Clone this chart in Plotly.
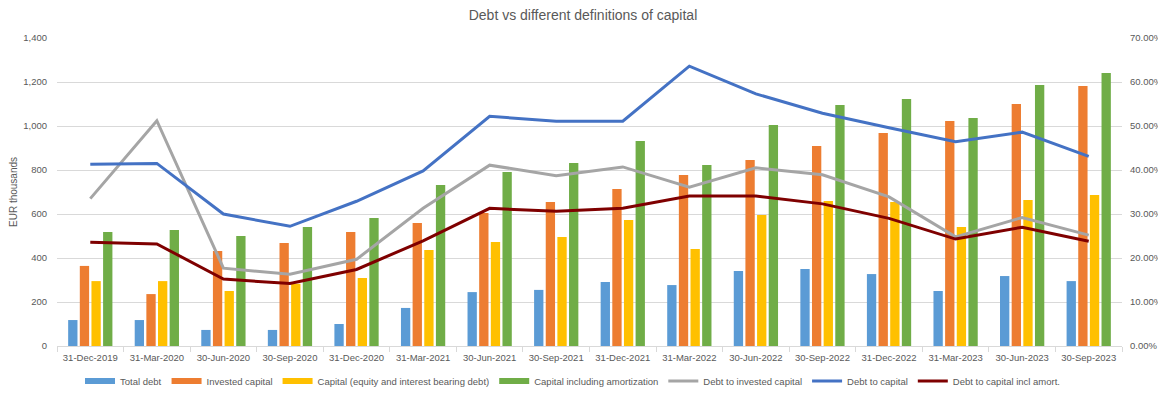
import plotly.graph_objects as go

categories = ["31-Dec-2019", "31-Mar-2020", "30-Jun-2020", "30-Sep-2020", "31-Dec-2020", "31-Mar-2021",
              "30-Jun-2021", "30-Sep-2021", "31-Dec-2021", "31-Mar-2022", "30-Jun-2022", "30-Sep-2022",
              "31-Dec-2022", "31-Mar-2023", "30-Jun-2023", "30-Sep-2023"]

total_debt = [118, 118, 73, 73, 100, 173, 245, 255, 291, 277, 341, 350, 327, 250, 318, 295]
invested_capital = [364, 236, 432, 468, 518, 559, 605, 655, 714, 777, 845, 909, 968, 1023, 1100, 1182]
capital_eq_debt = [295, 295, 250, 283, 309, 436, 473, 495, 573, 441, 595, 659, 655, 541, 664, 686]
capital_incl_amort = [518, 527, 500, 541, 582, 732, 791, 832, 932, 823, 1005, 1095, 1123, 1036, 1186, 1241]

debt_to_invested = [0.335, 0.512, 0.177, 0.163, 0.197, 0.313, 0.411, 0.387, 0.407, 0.361, 0.405, 0.389,
                    0.339, 0.248, 0.292, 0.252]
debt_to_capital = [0.413, 0.415, 0.300, 0.272, 0.329, 0.398, 0.522, 0.511, 0.511, 0.636, 0.573, 0.529,
                   0.496, 0.464, 0.486, 0.431]
debt_to_capital_amort = [0.236, 0.232, 0.152, 0.142, 0.174, 0.239, 0.313, 0.306, 0.313, 0.341, 0.341, 0.323,
                         0.290, 0.243, 0.270, 0.238]

FONT = "Liberation Sans Narrow, Liberation Sans, Arial, sans-serif"
TXT = "#595959"

# the page body has an 8px margin, so the figure is 8px smaller than the window
W, H = 1158, 386

fig = go.Figure()
bar_specs = [
    ("Total debt", total_debt, "#5B9BD5"),
    ("Invested capital", invested_capital, "#ED7D31"),
    ("Capital (equity and interest bearing debt)", capital_eq_debt, "#FFC000"),
    ("Capital including amortization", capital_incl_amort, "#70AD47"),
]
for name, vals, col in bar_specs:
    fig.add_trace(go.Bar(x=categories, y=vals, name=name, marker_color=col, marker_line_width=0,
                         legendgroup=name, showlegend=False))

line_specs = [
    ("Debt to invested capital", debt_to_invested, "#A5A5A5"),
    ("Debt to capital", debt_to_capital, "#4472C4"),
    ("Debt to capital incl amort.", debt_to_capital_amort, "#7F0000"),
]
for name, vals, col in line_specs:
    fig.add_trace(go.Scatter(x=categories, y=vals, name=name, mode="lines", yaxis="y2",
                             line=dict(color=col, width=3), showlegend=False, legendgroup=name))

# legend entries (wide bar-like swatches as in the original)
for name, vals, col in bar_specs:
    fig.add_trace(go.Scatter(x=[None], y=[None], name=name, mode="lines", legendgroup=name,
                             line=dict(color=col, width=6)))
for name, vals, col in line_specs:
    fig.add_trace(go.Scatter(x=[None], y=[None], name=name, mode="lines", legendgroup=name, yaxis="y2",
                             line=dict(color=col, width=3)))

fig.update_layout(
    width=W, height=H,
    margin=dict(l=49, r=44, t=30, b=48, autoexpand=False),
    paper_bgcolor="white", plot_bgcolor="white",
    font=dict(family=FONT, size=10, color=TXT),
    title=dict(text="Debt vs different definitions of capital", x=575 / W, xanchor="center",
               xref="container", yref="container", y=1 - 7 / H, yanchor="middle",
               font=dict(size=14, color=TXT, family=FONT)),
    barmode="group", bargap=0.3, bargroupgap=0.2,
    xaxis=dict(type="category", showgrid=False, showline=True, linecolor="#D9D9D9", linewidth=1,
               ticks="outside", tickson="boundaries", ticklen=5, tickcolor="#D9D9D9",
               ticklabelstandoff=3,
               tickfont=dict(size=9.5, color=TXT), tickangle=0, automargin=False),
    yaxis=dict(range=[0, 1400], dtick=200, tickformat=",", showgrid=True, gridcolor="#D9D9D9",
               gridwidth=1, zeroline=False, showline=False, ticks="", ticklabelstandoff=9,
               automargin=False,
               title=dict(text="EUR thousands", font=dict(size=10, color=TXT), standoff=3),
               tickfont=dict(size=9.5, color=TXT)),
    yaxis2=dict(range=[0, 0.7], dtick=0.1, tickformat=".2%", overlaying="y", side="right",
                showgrid=False, zeroline=False, showline=False, ticklabelstandoff=7, automargin=False,
                tickfont=dict(size=9.5, color=TXT)),
    legend=dict(orientation="h", xref="container", yref="container", x=72 / W, xanchor="left",
                y=13 / H, yanchor="middle", font=dict(size=9.5, color=TXT), itemwidth=30,
                traceorder="normal", bgcolor="rgba(0,0,0,0)"),
)

fig.write_html("out.html")
